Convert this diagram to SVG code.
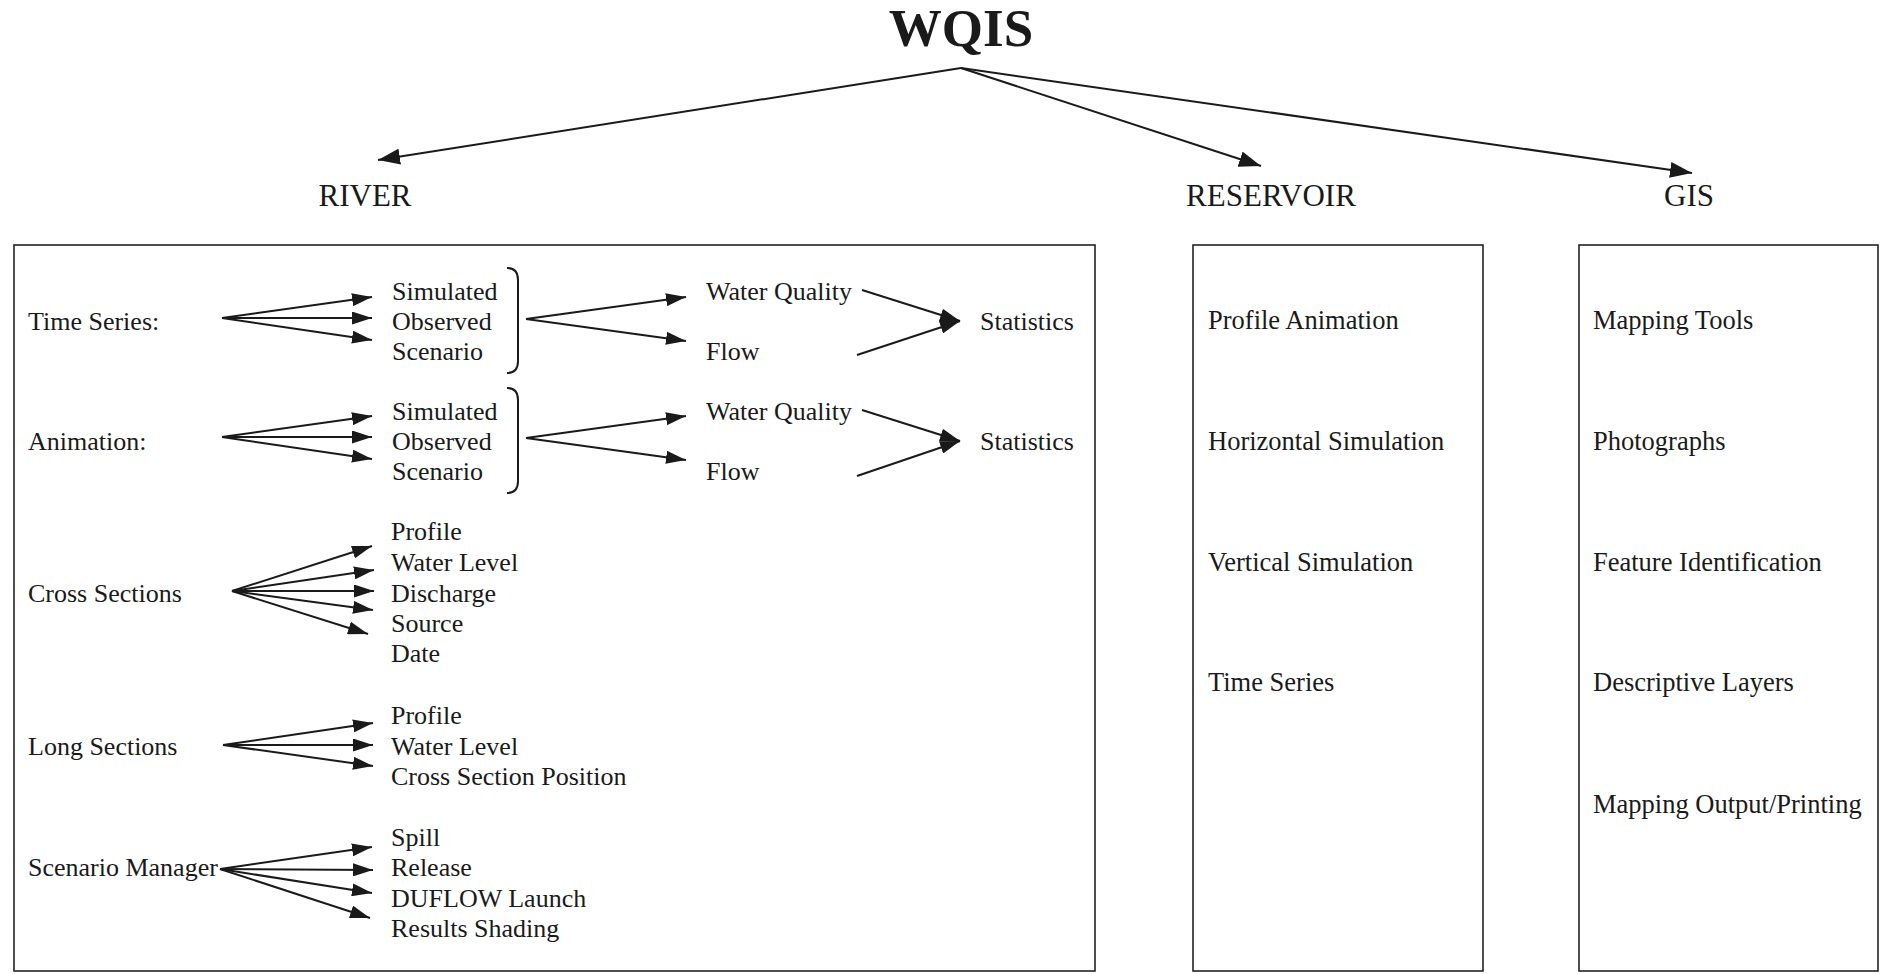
<svg xmlns="http://www.w3.org/2000/svg" width="1883" height="974" viewBox="0 0 1883 974">
  <style>
    .t { font-family: "Liberation Serif", "Times New Roman", serif; font-size: 26px; fill: #1a1a1a; }
    .side { font-size: 26.5px; }
    .head { font-size: 31px; }
    .title { font-size: 53px; font-weight: bold; }
    .box { fill: none; stroke: #222; stroke-width: 1.6; }
    .ln { fill: none; stroke: #1a1a1a; stroke-width: 2; }
    .arr { marker-end: url(#ah); }
    .big { marker-end: url(#ahBig); }
  </style>
  <defs>
    <!-- standard filled arrowhead -->
    <marker id="ah" markerUnits="userSpaceOnUse" markerWidth="20" markerHeight="13" refX="20" refY="6.5" orient="auto">
      <path d="M0,0 L20,6.5 L0,13 Z" fill="#1a1a1a"/>
    </marker>
    <!-- larger arrowhead for the top-level branches -->
    <marker id="ahBig" markerUnits="userSpaceOnUse" markerWidth="22" markerHeight="16" refX="22" refY="8" orient="auto">
      <path d="M0,0 L22,8 L0,16 Z" fill="#1a1a1a"/>
    </marker>
  </defs>
  <rect width="1883" height="974" fill="#ffffff"/>

  <!-- top level -->
  <g id="wqis"><text class="t title" x="961" y="46" text-anchor="middle">WQIS</text></g>
  <g id="river-head"><text class="t head" x="365" y="206" text-anchor="middle">RIVER</text></g>
  <g id="reservoir-head"><text class="t head" x="1271" y="206" text-anchor="middle">RESERVOIR</text></g>
  <g id="gis-head"><text class="t head" x="1689" y="206" text-anchor="middle">GIS</text></g>

  <!-- panels -->
  <g id="river-panel"><rect class="box" x="14" y="245" width="1081" height="726"/></g>
  <g id="reservoir-panel">
    <rect class="box" x="1193" y="245" width="290" height="726"/>
    <text class="t side" x="1208" y="329">Profile Animation</text>
    <text class="t side" x="1208" y="450">Horizontal Simulation</text>
    <text class="t side" x="1208" y="571">Vertical Simulation</text>
    <text class="t side" x="1208" y="691">Time Series</text>
  </g>
  <g id="gis-panel">
    <rect class="box" x="1579" y="245" width="299" height="726"/>
    <text class="t side" x="1593" y="329">Mapping Tools</text>
    <text class="t side" x="1593" y="450">Photographs</text>
    <text class="t side" x="1593" y="571">Feature Identification</text>
    <text class="t side" x="1593" y="691">Descriptive Layers</text>
    <text class="t side" x="1593" y="813">Mapping Output/Printing</text>
  </g>

  <!-- river: time series -->
  <g id="time-series">
    <text class="t" x="28" y="330">Time Series:</text>
    <text class="t" x="392" y="300">Simulated</text>
    <text class="t" x="392" y="330">Observed</text>
    <text class="t" x="392" y="360">Scenario</text>
    <path class="ln" d="M507,268 Q518,268 518,280 L518,361 Q518,373 507,373"/>
    <text class="t" x="706" y="300">Water Quality</text>
    <text class="t" x="706" y="360">Flow</text>
    <text class="t" x="980" y="330">Statistics</text>
  </g>
  <!-- river: animation -->
  <g id="animation">
    <text class="t" x="28" y="450">Animation:</text>
    <text class="t" x="392" y="420">Simulated</text>
    <text class="t" x="392" y="450">Observed</text>
    <text class="t" x="392" y="480">Scenario</text>
    <path class="ln" d="M507,388 Q518,388 518,400 L518,481 Q518,493 507,493"/>
    <text class="t" x="706" y="420">Water Quality</text>
    <text class="t" x="706" y="480">Flow</text>
    <text class="t" x="980" y="450">Statistics</text>
  </g>
  <!-- river: cross sections -->
  <g id="cross-sections">
    <text class="t" x="28" y="602">Cross Sections</text>
    <text class="t" x="391" y="540">Profile</text>
    <text class="t" x="391" y="571">Water Level</text>
    <text class="t" x="391" y="602">Discharge</text>
    <text class="t" x="391" y="632">Source</text>
    <text class="t" x="391" y="662">Date</text>
  </g>
  <!-- river: long sections -->
  <g id="long-sections">
    <text class="t" x="28" y="755">Long Sections</text>
    <text class="t" x="391" y="724">Profile</text>
    <text class="t" x="391" y="755">Water Level</text>
    <text class="t" x="391" y="785">Cross Section Position</text>
  </g>
  <!-- river: scenario manager -->
  <g id="scenario-manager">
    <text class="t" x="28" y="876">Scenario Manager</text>
    <text class="t" x="391" y="846">Spill</text>
    <text class="t" x="391" y="876">Release</text>
    <text class="t" x="391" y="907">DUFLOW Launch</text>
    <text class="t" x="391" y="937">Results Shading</text>
  </g>

  <!-- connectors -->
  <g id="connectors">
    <line class="ln big" x1="961" y1="68" x2="378" y2="160"/>
    <line class="ln big" x1="961" y1="68" x2="1261" y2="166"/>
    <line class="ln big" x1="961" y1="68" x2="1692" y2="173"/>

    <line class="ln arr" x1="222" y1="318" x2="372" y2="297"/>
    <line class="ln arr" x1="222" y1="318" x2="372" y2="318"/>
    <line class="ln arr" x1="222" y1="318" x2="372" y2="340"/>
    <line class="ln arr" x1="526" y1="319" x2="686" y2="297"/>
    <line class="ln arr" x1="526" y1="319" x2="686" y2="341"/>
    <line class="ln arr" x1="862" y1="290" x2="960" y2="321"/>
    <line class="ln arr" x1="857" y1="355" x2="960" y2="321"/>

    <line class="ln arr" x1="222" y1="437" x2="372" y2="416"/>
    <line class="ln arr" x1="222" y1="437" x2="372" y2="437"/>
    <line class="ln arr" x1="222" y1="437" x2="372" y2="459"/>
    <line class="ln arr" x1="526" y1="438" x2="686" y2="416"/>
    <line class="ln arr" x1="526" y1="438" x2="686" y2="460"/>
    <line class="ln arr" x1="862" y1="410" x2="960" y2="441"/>
    <line class="ln arr" x1="857" y1="476" x2="960" y2="441"/>

    <line class="ln arr" x1="232" y1="591" x2="372" y2="546"/>
    <line class="ln arr" x1="232" y1="591" x2="374" y2="570"/>
    <line class="ln arr" x1="232" y1="591" x2="374" y2="591"/>
    <line class="ln arr" x1="232" y1="591" x2="373" y2="610"/>
    <line class="ln arr" x1="232" y1="591" x2="368" y2="634"/>

    <line class="ln arr" x1="223" y1="745" x2="373" y2="723"/>
    <line class="ln arr" x1="223" y1="745" x2="373" y2="745"/>
    <line class="ln arr" x1="223" y1="745" x2="373" y2="766"/>

    <line class="ln arr" x1="220" y1="869" x2="372" y2="847"/>
    <line class="ln arr" x1="220" y1="869" x2="373" y2="870"/>
    <line class="ln arr" x1="220" y1="869" x2="372" y2="893"/>
    <line class="ln arr" x1="220" y1="869" x2="370" y2="918"/>
  </g>
</svg>
